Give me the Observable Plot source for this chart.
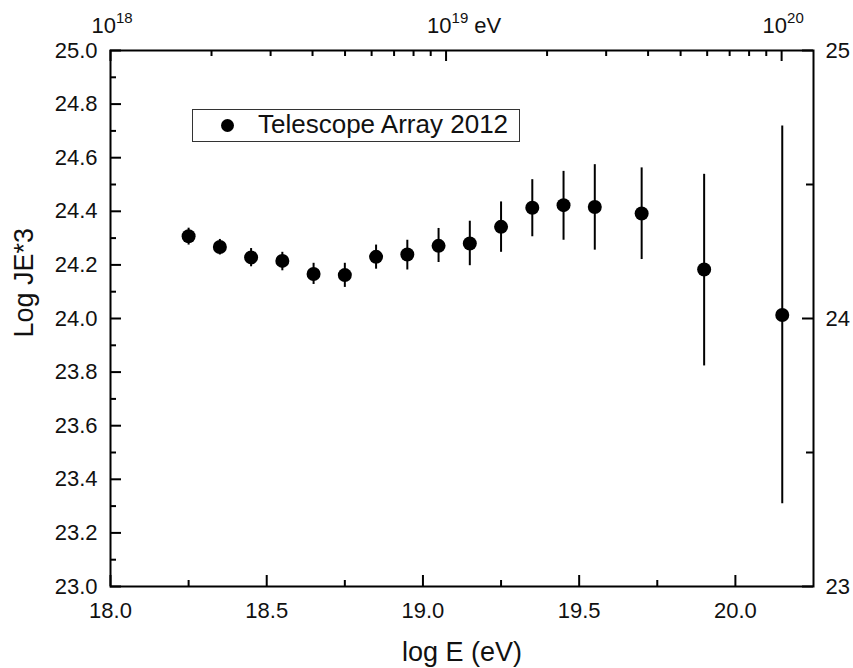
<!DOCTYPE html>
<html>
<head>
<meta charset="utf-8">
<script src="https://cdn.jsdelivr.net/npm/d3@7"></script>
<script src="https://cdn.jsdelivr.net/npm/@observablehq/plot@0.6"></script>
<style>
  body { margin: 0; background: #fff; }
  #wrap { position: relative; width: 853px; height: 668px; font-family: "Liberation Sans", Arial, sans-serif; }
  #wrap svg { position: absolute; left: 0; top: 0; }
  #legend { position: absolute; left: 192px; top: 109px; width: 326px; height: 31px; border: 1px solid #333; background: #fff; z-index: 5; }
  #legend .dot { position: absolute; left: 28px; top: 9px; width: 13px; height: 13px; border-radius: 50%; background: #000; }
  #legend .lab { position: absolute; left: 65px; top: 2px; font-size: 26px; line-height: 25px; color: #111; white-space: nowrap; }
</style>
</head>
<body>
<div id="wrap">
  <div id="legend"><div class="dot"></div><span class="lab" id="legendLabel"></span></div>
</div>
<script>
// ---- data ----
const energy  = [18.25, 18.35, 18.45, 18.55, 18.65, 18.75, 18.85, 18.95, 19.05, 19.15, 19.25, 19.35, 19.45, 19.55, 19.70, 19.90, 20.15];
const logJE3  = [24.307, 24.267, 24.228, 24.215, 24.166, 24.162, 24.230, 24.239, 24.271, 24.280, 24.342, 24.413, 24.423, 24.416, 24.392, 24.183, 24.013];
const errLow  = [24.274, 24.237, 24.193, 24.178, 24.127, 24.116, 24.184, 24.181, 24.209, 24.197, 24.247, 24.305, 24.292, 24.255, 24.220, 23.823, 23.309];
const errHigh = [24.337, 24.295, 24.261, 24.247, 24.206, 24.206, 24.274, 24.292, 24.336, 24.363, 24.435, 24.518, 24.549, 24.574, 24.562, 24.538, 24.718];

// ---- ticks / labels ----
const xMajorTicks = [18.0, 18.5, 19.0, 19.5, 20.0];
const xMinorTicks = [18.25, 18.75, 19.25, 19.75];
const yMajorTicks = [23.0, 23.2, 23.4, 23.6, 23.8, 24.0, 24.2, 24.4, 24.6, 24.8, 25.0];
const yMinorTicks = [23.1, 23.3, 23.5, 23.7, 23.9, 24.1, 24.3, 24.5, 24.7, 24.9];
const rightMajorTicks = [23, 24, 25];
const rightMinorTicks = [23.5, 24.5];
const topMajorTicks = [1e18, 1e19, 1e20];
const topMinorTicks = [2e18, 3e18, 4e18, 5e18, 6e18, 7e18, 8e18, 9e18, 2e19, 3e19, 4e19, 5e19, 6e19, 7e19, 8e19, 9e19];
const xTitle = "log E (eV)";
const yTitle = "Log JE*3";
const seriesName = "Telescope Array 2012";

document.getElementById("legendLabel").textContent = seriesName;

const data = energy.map((e, i) => ({e, v: logJE3[i], lo: errLow[i], hi: errHigh[i]}));

const W = 853, H = 668, mL = 110, mR = 40, mT = 50, mB = 82;
const plotW = W - mL - mR, plotH = H - mT - mB;
const font = '"Liberation Sans", Arial, sans-serif';

const mainPlot = Plot.plot({
  width: W, height: H,
  marginLeft: mL, marginRight: mR, marginTop: mT, marginBottom: mB,
  style: {fontFamily: font, fontSize: "22px", color: "#111", background: "white"},
  x: {domain: [18, 20.25]},
  y: {domain: [23, 25]},
  marks: [
    Plot.tickX(xMajorTicks, {x: d => d, insetTop: plotH - 11, strokeWidth: 2, stroke: "#000"}),
    Plot.tickX(xMinorTicks, {x: d => d, insetTop: plotH - 6, strokeWidth: 2, stroke: "#000"}),
    Plot.tickY(yMajorTicks, {y: d => d, insetRight: plotW - 11, strokeWidth: 2, stroke: "#000"}),
    Plot.tickY(yMinorTicks, {y: d => d, insetRight: plotW - 6, strokeWidth: 2, stroke: "#000"}),
    Plot.tickY(rightMajorTicks, {y: d => d, insetLeft: plotW - 11, strokeWidth: 2, stroke: "#000"}),
    Plot.tickY(rightMinorTicks, {y: d => d, insetLeft: plotW - 7, strokeWidth: 2, stroke: "#000"}),
    Plot.axisX({ticks: xMajorTicks, tickSize: 0, tickPadding: 16, tickFormat: d3.format(".1f"), label: null}),
    Plot.axisY({anchor: "left", ticks: yMajorTicks, tickSize: 0, tickPadding: 13, tickFormat: d3.format(".1f"), label: null}),
    Plot.axisY({anchor: "right", ticks: rightMajorTicks, tickSize: 0, tickPadding: 12, tickFormat: d3.format("d"), label: null}),
    Plot.frame({stroke: "#000", strokeWidth: 2}),
    Plot.ruleX(data, {x: "e", y1: "lo", y2: "hi", stroke: "#000", strokeWidth: 2}),
    Plot.dot(data, {x: "e", y: "v", r: 7, fill: "#000", stroke: "none"}),
    Plot.text([yTitle], {frameAnchor: "left", rotate: -90, dx: -78, dy: 19, lineAnchor: "bottom", fontSize: 27, fill: "#111"}),
    Plot.text([xTitle], {frameAnchor: "bottom", dy: 74, lineAnchor: "bottom", fontSize: 27, fill: "#111"})
  ]
});

const topAxisPlot = Plot.plot({
  width: W, height: H,
  marginLeft: mL, marginRight: mR, marginTop: mT, marginBottom: mB,
  style: {fontFamily: font, fontSize: "22px", color: "#111", background: "transparent", pointerEvents: "none"},
  x: {type: "log", domain: [1e18, Math.pow(10, 20.095)], axis: null},
  marks: [
    Plot.tickX(topMajorTicks, {x: d => d, insetBottom: plotH - 11, strokeWidth: 2, stroke: "#000"}),
    Plot.tickX(topMinorTicks, {x: d => d, insetBottom: plotH - 6, strokeWidth: 2, stroke: "#000"}),
    Plot.text(topMajorTicks, {x: d => d, text: d => String(Math.round(Math.log10(d))), frameAnchor: "top", dy: -18, dx: -19, textAnchor: "start", lineAnchor: "bottom", fill: "#111", fontSize: 22})
  ]
});

// superscript exponents on the top (energy) axis
topAxisPlot.querySelectorAll('g[aria-label="text"] text').forEach(t => {
  const exp = t.textContent;
  let html = `10<tspan dy="-10" font-size="15">${exp}</tspan>`;
  if (exp === "19") html += `<tspan dy="10"> eV</tspan>`;
  t.innerHTML = html;
});

const wrap = document.getElementById("wrap");
wrap.insertBefore(mainPlot, wrap.firstChild);
wrap.insertBefore(topAxisPlot, document.getElementById("legend"));
</script>
</body>
</html>
